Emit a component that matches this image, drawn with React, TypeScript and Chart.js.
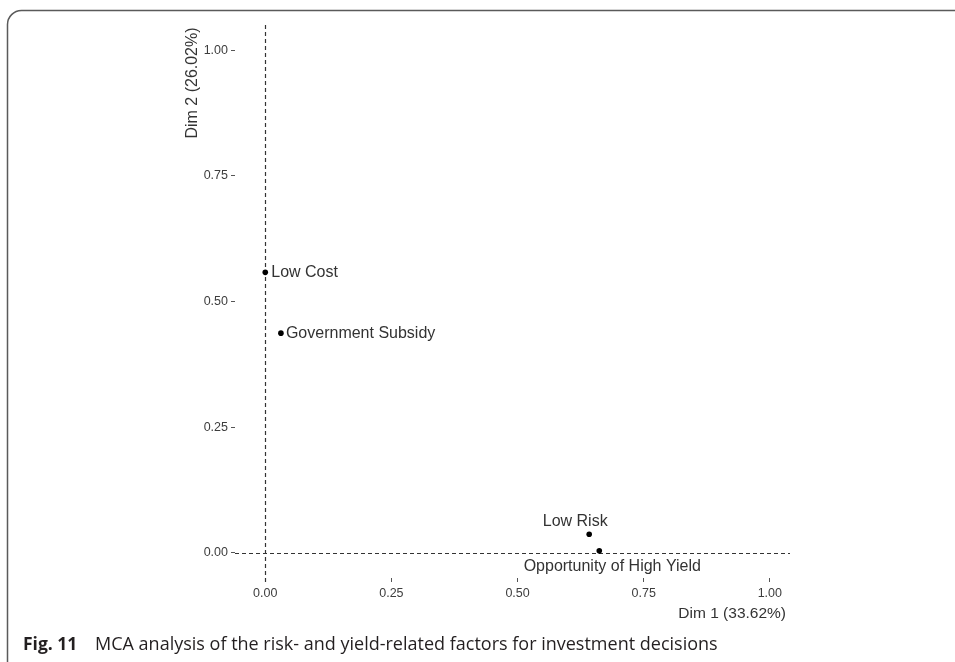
import React, { useEffect, useRef } from "react";
import { Chart, registerables } from "chart.js";

Chart.register(...registerables);

// MCA coordinates of the factor categories
const factorNames = ["Low Cost", "Government Subsidy", "Low Risk", "Opportunity of High Yield"];
const dim1Values = [0.0, 0.031, 0.642, 0.662];
const dim2Values = [0.558, 0.437, 0.037, 0.004];

const tickValues = [0, 0.25, 0.5, 0.75, 1];
const xMin = -0.06;
const xMax = 1.04;
const yMin = -0.05;
const yMax = 1.05;

const dim1Title = "Dim 1 (33.62%)";
const dim2Title = "Dim 2 (26.02%)";
const captionBold = "Fig. 11";
const captionText = "MCA analysis of the risk- and yield-related factors for investment decisions";

// label placement relative to each point (text alignment + pixel offset)
const labelPlacement = [
  { align: "left", dx: 6, dy: 0 },
  { align: "left", dx: 5, dy: 0 },
  { align: "center", dx: -14, dy: -13 },
  { align: "center", dx: 13, dy: 16 },
];

const SANS = '"Liberation Sans", Arial, sans-serif';
const CAPTION_FONT = '"Open Sans", "Noto Sans", sans-serif';

const mcaPlugin = {
  id: "mcaDecor",
  beforeDatasetsDraw(chart: any) {
    const { ctx, chartArea, scales } = chart;
    const x0 = scales.x.getPixelForValue(0);
    const y0 = scales.y.getPixelForValue(0);
    ctx.save();
    ctx.strokeStyle = "#333333";
    ctx.lineWidth = 1.2;
    ctx.setLineDash([4, 3]);
    ctx.beginPath();
    ctx.moveTo(Math.round(x0) + 0.5, chartArea.top);
    ctx.lineTo(Math.round(x0) + 0.5, chartArea.bottom + 4);
    ctx.moveTo(chartArea.left, Math.round(y0) + 0.5);
    ctx.lineTo(chartArea.right, Math.round(y0) + 0.5);
    ctx.stroke();
    ctx.restore();
  },
  afterDatasetsDraw(chart: any) {
    const { ctx } = chart;
    const meta = chart.getDatasetMeta(0);
    ctx.save();
    ctx.font = `16px ${SANS}`;
    ctx.fillStyle = "#333333";
    ctx.textBaseline = "middle";
    meta.data.forEach((pt: any, i: number) => {
      const p = labelPlacement[i];
      ctx.textAlign = p.align;
      ctx.fillText(factorNames[i], pt.x + p.dx, pt.y + p.dy);
    });
    ctx.restore();
  },
  afterDraw(chart: any) {
    const { ctx, chartArea } = chart;
    ctx.save();
    // axis titles
    ctx.fillStyle = "#333333";
    ctx.textBaseline = "middle";
    ctx.font = `15.5px ${SANS}`;
    ctx.textAlign = "right";
    ctx.fillText(dim1Title, chartArea.right - 4, 614);
    ctx.save();
    ctx.font = `16px ${SANS}`;
    ctx.translate(193, 83);
    ctx.rotate(-Math.PI / 2);
    ctx.textAlign = "center";
    ctx.fillText(dim2Title, 0, 0);
    ctx.restore();

    // figure frame
    ctx.strokeStyle = "#5a5a5a";
    ctx.lineWidth = 1.5;
    ctx.beginPath();
    ctx.moveTo(7.5, 662);
    ctx.lineTo(7.5, 25);
    ctx.arcTo(7.5, 10.5, 22, 10.5, 14);
    ctx.lineTo(955, 10.5);
    ctx.stroke();

    // caption
    ctx.textAlign = "left";
    ctx.textBaseline = "alphabetic";
    ctx.fillStyle = "#231f20";
    ctx.font = `bold 17.5px ${CAPTION_FONT}`;
    ctx.fillText(captionBold, 23, 650);
    ctx.font = `18px ${CAPTION_FONT}`;
    ctx.fillText(captionText, 95, 650);
    ctx.restore();
  },
};

const tickFont = { family: SANS, size: 12.5 };

export default function App() {
  const canvasRef = useRef<HTMLCanvasElement | null>(null);

  useEffect(() => {
    if (!canvasRef.current) return;
    const points = dim1Values.map((x, i) => ({ x, y: dim2Values[i] }));
    const chart = new Chart(canvasRef.current, {
      type: "scatter",
      data: {
        datasets: [
          {
            data: points,
            pointRadius: 2.8,
            pointBackgroundColor: "#000000",
            pointBorderWidth: 0,
          },
        ],
      },
      options: {
        animation: false,
        responsive: false,
        events: [],
        layout: { padding: { top: 25, right: 165, left: 0, bottom: 0 } },
        plugins: { legend: { display: false }, tooltip: { enabled: false } },
        scales: {
          x: {
            type: "linear",
            min: xMin,
            max: xMax,
            afterBuildTicks: (s: any) => {
              s.ticks = tickValues.map((v) => ({ value: v }));
            },
            afterFit: (s: any) => {
              s.height = 84;
            },
            border: { display: false },
            grid: { drawOnChartArea: false, drawTicks: true, tickLength: 4, color: "#555555" },
            ticks: {
              font: tickFont,
              color: "#3d3d3d",
              padding: 4,
              maxRotation: 0,
              autoSkip: false,
              callback: (v: any) => Number(v).toFixed(2),
            },
          },
          y: {
            type: "linear",
            min: yMin,
            max: yMax,
            afterBuildTicks: (s: any) => {
              s.ticks = tickValues.map((v) => ({ value: v }));
            },
            afterFit: (s: any) => {
              s.width = 235;
            },
            border: { display: false },
            grid: { drawOnChartArea: false, drawTicks: true, tickLength: 4, color: "#555555" },
            ticks: {
              font: tickFont,
              color: "#3d3d3d",
              padding: 3,
              autoSkip: false,
              callback: (v: any) => Number(v).toFixed(2),
            },
          },
        },
      },
      plugins: [mcaPlugin],
    });
    return () => chart.destroy();
  }, []);

  return (
    <div style={{ position: "absolute", left: 0, top: 0, width: 955, height: 662, background: "#ffffff" }}>
      <canvas ref={canvasRef} width={955} height={662} style={{ display: "block" }} />
    </div>
  );
}
